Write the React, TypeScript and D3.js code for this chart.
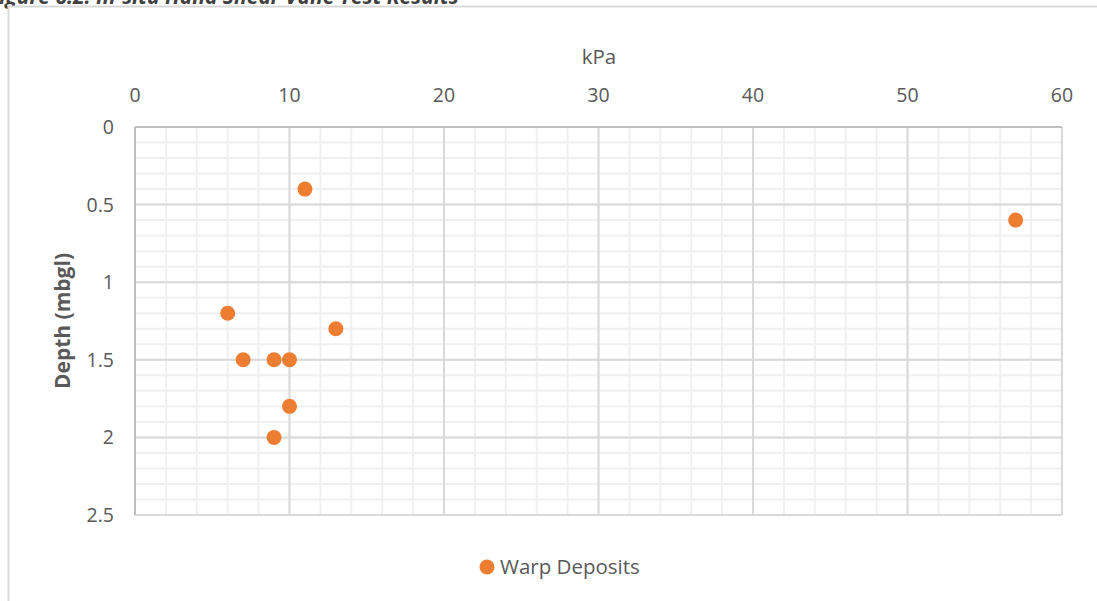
import React from 'react';
import * as d3 from 'd3';

// kPa vs depth readings (Warp Deposits)
const shearKPa = [11, 57, 6, 13, 7, 9, 10, 10, 9];
const depthM = [0.4, 0.6, 1.2, 1.3, 1.5, 1.5, 1.5, 1.8, 2.0];
const xTicks = [0, 10, 20, 30, 40, 50, 60];
const yTicks = [0, 0.5, 1, 1.5, 2, 2.5];
const yTickLabels = ['0', '0.5', '1', '1.5', '2', '2.5'];
const seriesName = 'Warp Deposits';

const W = 1097;
const H = 601;
const FONT = '"Open Sans", "Liberation Sans", sans-serif';

const App: React.FC = () => {
  const x = d3.scaleLinear().domain([0, 60]).range([135, 1062]);
  const y = d3.scaleLinear().domain([0, 2.5]).range([127, 515]);

  const xMinor = d3.range(0, 60.001, 2);
  const yMinor = d3.range(0, 2.5001, 0.1);

  return (
    <div style={{ position: 'fixed', left: 0, top: 0 }}>
      <svg width={W} height={H} style={{ display: 'block', background: '#fff' }}>
        {/* cropped figure caption */}
        <text x={-12} y={4} fontFamily={FONT} fontSize={21} fontWeight="bold" fontStyle="italic" fill="#404040">
          Figure 6.2: In-situ Hand Shear Vane Test Results
        </text>
        {/* chart frame */}
        <rect x={8.5} y={6.5} width={W + 10} height={H + 10} fill="#fff" stroke="#d9d9d9" strokeWidth={2} />

        {/* minor grid */}
        <g stroke="#f0f0f0" strokeWidth={2}>
          {xMinor.map((v) => (
            <line key={'xm' + v} x1={x(v)} x2={x(v)} y1={y(0)} y2={y(2.5)} />
          ))}
          {yMinor.map((v) => (
            <line key={'ym' + v} x1={x(0)} x2={x(60)} y1={y(v)} y2={y(v)} />
          ))}
        </g>
        {/* major grid */}
        <g stroke="#d9d9d9" strokeWidth={2}>
          {xTicks.map((v) => (
            <line key={'xM' + v} x1={x(v)} x2={x(v)} y1={y(0)} y2={y(2.5)} />
          ))}
          {yTicks.map((v) => (
            <line key={'yM' + v} x1={x(0)} x2={x(60)} y1={y(v)} y2={y(v)} />
          ))}
        </g>
        {/* axis lines */}
        <line x1={x(0)} x2={x(0)} y1={y(0)} y2={y(2.5)} stroke="#bfbfbf" strokeWidth={2} />
        <line x1={x(0)} x2={x(60)} y1={y(0)} y2={y(0)} stroke="#bfbfbf" strokeWidth={2} />

        {/* tick labels */}
        <g fontFamily={FONT} fontSize={19.5} fill="#595959">
          {xTicks.map((v) => (
            <text key={'xt' + v} x={x(v)} y={102} textAnchor="middle">{v}</text>
          ))}
          {yTicks.map((v, i) => (
            <text key={'yt' + v} x={114} y={y(v) + 7} textAnchor="end">{yTickLabels[i]}</text>
          ))}
        </g>

        {/* axis titles */}
        <text x={599} y={64} textAnchor="middle" fontFamily={FONT} fontSize={20.5} fill="#595959">kPa</text>
        <text
          transform={`translate(70, ${y(1.25)}) rotate(-90)`}
          textAnchor="middle"
          fontFamily={FONT}
          fontSize={21}
          fontWeight="bold"
          fill="#595959"
        >
          Depth (mbgl)
        </text>

        {/* points */}
        <g fill="#ed7d31">
          {shearKPa.map((v, i) => (
            <circle key={'p' + i} cx={x(v)} cy={y(depthM[i])} r={7.5} />
          ))}
        </g>

        {/* legend */}
        <circle cx={487} cy={567} r={7.5} fill="#ed7d31" />
        <text x={500} y={574} fontFamily={FONT} fontSize={20.5} fill="#595959">{seriesName}</text>
      </svg>
    </div>
  );
};

export default App;
